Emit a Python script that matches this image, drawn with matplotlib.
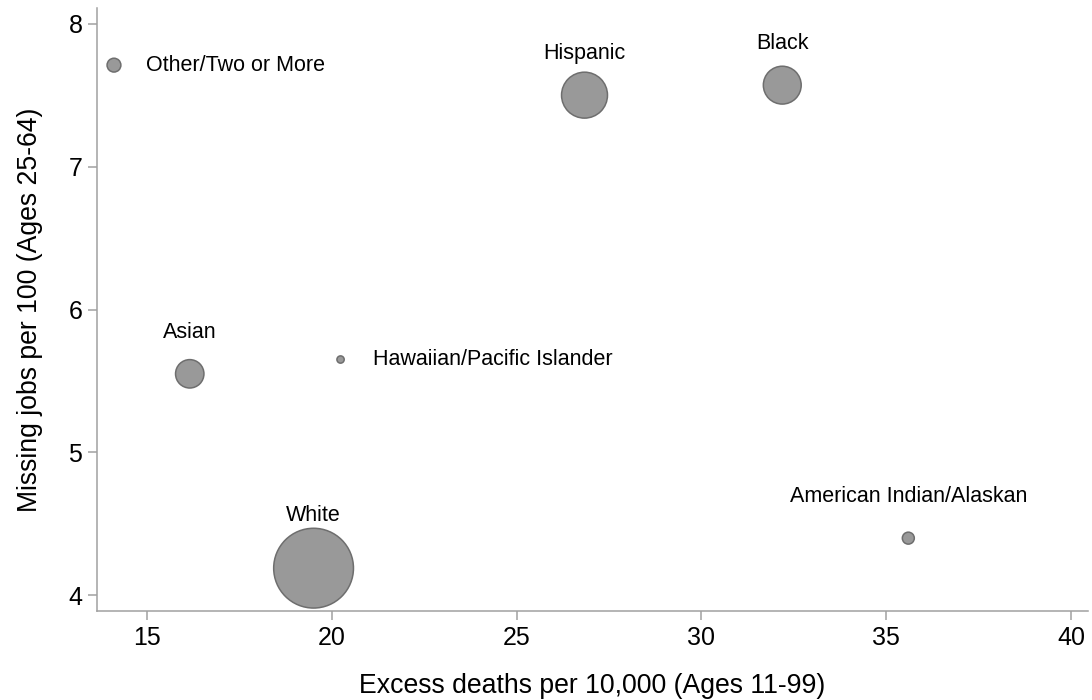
import numpy as np
import matplotlib.pyplot as plt

plt.rcParams['font.family'] = ['Liberation Sans', 'DejaVu Sans']

# data
groups = ['Other/Two or More', 'Hispanic', 'Black', 'Asian',
          'Hawaiian/Pacific Islander', 'White', 'American Indian/Alaskan']
excess_deaths = [14.11, 26.84, 32.19, 16.16, 20.24, 19.51, 35.60]
missing_jobs = [7.71, 7.50, 7.57, 5.55, 5.65, 4.19, 4.40]
pop_share = [1.8, 19.9, 13.5, 7.6, 0.5, 60.0, 1.35]   # bubble weight

# label placement (clock position like stata mlabpos)
label_pos = [3, 12, 12, 12, 3, 12, 12]

fig = plt.figure(figsize=(10.92, 7.0), dpi=100)
ax = fig.add_axes([0.0888, 0.1271, 0.9075, 0.8615])

sizes = np.array(pop_share) * 55
ax.scatter(excess_deaths, missing_jobs, s=sizes, facecolor='#999999',
           edgecolor='#6e6e6e', linewidth=1.1, zorder=3)

for i in range(len(groups)):
    r = np.sqrt(sizes[i]) / 2  # radius in points
    if label_pos[i] == 12:
        off = max(30, r + 9)
        ax.annotate(groups[i], (excess_deaths[i], missing_jobs[i]),
                    xytext=(0, off), textcoords='offset points',
                    ha='center', va='center', fontsize=15.5)
    else:
        ax.annotate(groups[i], (excess_deaths[i], missing_jobs[i]),
                    xytext=(23, 0), textcoords='offset points',
                    ha='left', va='center', fontsize=15.5)

ax.set_xlim(13.65, 40.46)
ax.set_ylim(3.89, 8.11)
ax.set_xticks([15, 20, 25, 30, 35, 40])
ax.set_yticks([4, 5, 6, 7, 8])

for s in ['top', 'right']:
    ax.spines[s].set_visible(False)
for s in ['left', 'bottom']:
    ax.spines[s].set_color('#a0a0a0')
    ax.spines[s].set_linewidth(1.1)
ax.tick_params(direction='out', length=6.5, width=1.1, color='#a0a0a0',
               labelsize=18, pad=4)

ax.set_xlabel('Excess deaths per 10,000 (Ages 11-99)', fontsize=19.2, labelpad=17)
ax.set_ylabel('Missing jobs per 100 (Ages 25-64)', fontsize=19.2, labelpad=18)

fig.savefig('out.png', dpi=100)
